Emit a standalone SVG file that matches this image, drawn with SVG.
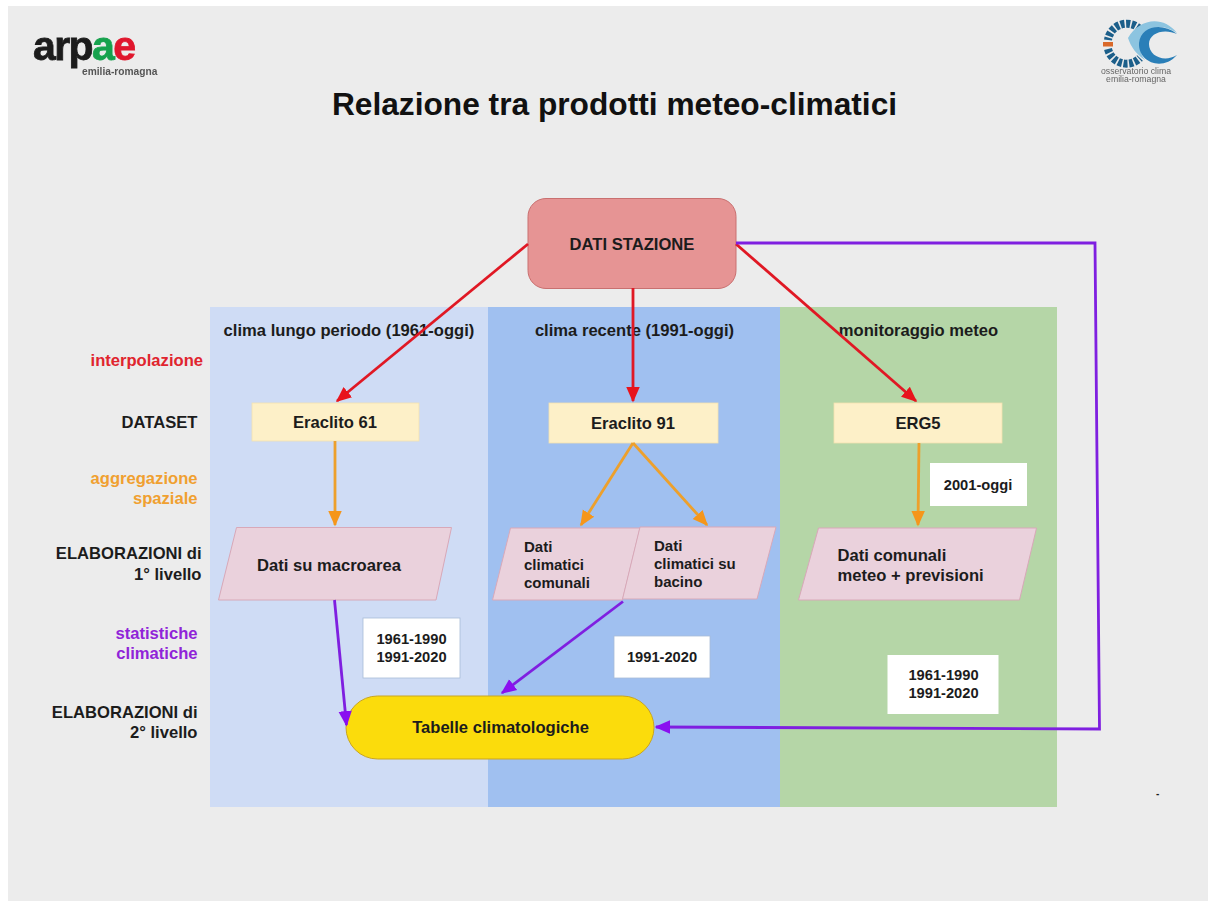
<svg xmlns="http://www.w3.org/2000/svg" width="1208" height="901" viewBox="0 0 1208 901">
<defs>
<marker id="ar" markerWidth="6" markerHeight="6" refX="5" refY="3" orient="auto" markerUnits="strokeWidth"><path d="M0 0.6L5.5 3L0 5.4Z" fill="#e8141c"/></marker>
<marker id="ao" markerWidth="6" markerHeight="6" refX="5" refY="3" orient="auto" markerUnits="strokeWidth"><path d="M0 0.6L5.5 3L0 5.4Z" fill="#f5961b"/></marker>
<marker id="ap" markerWidth="6" markerHeight="6" refX="5" refY="3" orient="auto" markerUnits="strokeWidth"><path d="M0 0.6L5.5 3L0 5.4Z" fill="#8a0ff0"/></marker>
<filter id="soft" x="-5%" y="-5%" width="110%" height="110%"><feGaussianBlur stdDeviation="0.6"/></filter>
</defs>
<style>
text{font-family:"Liberation Sans",Arial,sans-serif;font-weight:700;fill:#1c1c1c}
.big{font-size:16.6px}.mid{font-size:15px}.num{font-size:14.7px}
.m{text-anchor:middle}.rt{text-anchor:end}
.e{fill:#fdf0c8;stroke:#f3e2b0;stroke-width:.8}
.p{fill:#ead1dc;stroke:#d8a8b8;stroke-width:1}
.w{fill:#fff;stroke:#a8bcd8;stroke-width:.8}
.c{fill:none;stroke-width:2.8}
.r{stroke:#e01824;marker-end:url(#ar)}.o{stroke:#eda02c;marker-end:url(#ao)}.v{stroke:#7f1fe0;marker-end:url(#ap)}
.oc{fill:#f0a030}.pu{fill:#9024d8}
</style>
<rect width="1208" height="901" fill="#fff"/>
<rect x="8" y="6" width="1200" height="895" fill="#ececec"/>
<g id="band-lungo"><rect x="210" y="307" width="278" height="500" fill="#cfdcf5"/></g>
<g id="band-recente"><rect x="488" y="307" width="292" height="500" fill="#a0c0f0"/></g>
<g id="band-monitoraggio"><rect x="780" y="307" width="277" height="500" fill="#b5d6a7"/></g>

<g id="logo-arpae" filter="url(#soft)">
<text x="33" y="60" style="font-size:41px;letter-spacing:-1.6px;fill:#1c1c1c;stroke:#1c1c1c;stroke-width:.8">arp<tspan style="fill:#19a24e;stroke:#19a24e">a</tspan><tspan style="fill:#e0182d;stroke:#e0182d">e</tspan></text>
<text x="82" y="75" style="font-size:10.2px;fill:#555">emilia-romagna</text>
</g>
<g id="logo-osservatorio" filter="url(#soft)">
<path d="M1140 29A19 19 0 0 0 1108 40" fill="none" stroke="#1f5f8a" stroke-width="8" stroke-dasharray="4 1.6"/>
<path d="M1108 49A19 19 0 0 0 1140 58" fill="none" stroke="#1f5f8a" stroke-width="8" stroke-dasharray="4 1.6"/>
<rect x="1103" y="42" width="10" height="4.500" fill="#d9692b"/>
<path d="M1128 38C1138 20 1162 14 1177 33C1162 23 1148 26 1142 38C1139 47 1140 54 1145 60C1136 54 1131 47 1128 38Z" fill="#8cc4e0"/>
<path d="M1177 34C1162 22 1141 26 1139 43C1138 62 1162 72 1177 55C1164 63 1149 56 1149 44C1149 33 1164 28 1177 34Z" fill="#2b7fb8"/>
<text x="1136" y="73.500" class="m" style="font-size:8.7px;fill:#666;font-weight:400">osservatorio clima</text>
<text x="1136" y="82" class="m" style="font-size:8.7px;fill:#666;font-weight:400">emilia-romagna</text>
</g>
<text id="title" x="614.500" y="115" class="m" style="font-size:31.7px;fill:#111">Relazione tra prodotti meteo-climatici</text>

<g id="row-labels">
<text x="203" y="366" class="big rt" style="fill:#e0242e">interpolazione</text>
<text x="197.500" y="428" class="big rt">DATASET</text>
<text x="197.500" y="484" class="big rt oc">aggregazione</text>
<text x="197.500" y="504" class="big rt oc">spaziale</text>
<text x="201.500" y="559" class="big rt">ELABORAZIONI di</text>
<text x="201.500" y="580" class="big rt">1° livello</text>
<text x="197.500" y="639" class="big rt pu">statistiche</text>
<text x="197.500" y="659" class="big rt pu">climatiche</text>
<text x="197.500" y="718" class="big rt">ELABORAZIONI di</text>
<text x="197.500" y="738" class="big rt">2° livello</text>
</g>
<g id="band-labels">
<text x="349" y="336" class="big m">clima lungo periodo (1961-oggi)</text>
<text x="634.500" y="336" class="big m">clima recente (1991-oggi)</text>
<text x="918.500" y="336" class="big m">monitoraggio meteo</text>
</g>

<g id="n-stazione"><rect x="528" y="198.500" width="208" height="90" rx="18" fill="#e69494" stroke="#c97070"/><text x="632" y="250" class="big m">DATI STAZIONE</text></g>
<g id="n-er61"><rect x="252" y="403" width="167" height="38" class="e"/><text x="335" y="428" class="big m">Eraclito 61</text></g>
<g id="n-er91"><rect x="549" y="403" width="169" height="40" class="e"/><text x="633" y="429" class="big m">Eraclito 91</text></g>
<g id="n-erg5"><rect x="834" y="403" width="168" height="40" class="e"/><text x="918" y="429" class="big m">ERG5</text></g>
<g id="n-macro"><path d="M236.500 527.500H451.500L436 600H218.500Z" class="p"/><text x="257" y="570.500" class="big">Dati su macroarea</text></g>
<g id="n-comunali"><path d="M510.500 528H640L622.500 600H492.500Z" class="p"/><text x="524" y="552" class="mid">Dati</text><text x="524" y="570" class="mid">climatici</text><text x="524" y="587.500" class="mid">comunali</text></g>
<g id="n-bacino"><path d="M640 527H776L757 599H622.500Z" class="p"/><text x="654" y="551" class="mid">Dati</text><text x="654" y="569" class="mid">climatici su</text><text x="654" y="587" class="mid">bacino</text></g>
<g id="n-dati-comunali"><path d="M818.500 528H1036.500L1019.500 600H798.500Z" class="p"/><text x="837.500" y="560.500" class="big">Dati comunali</text><text x="837.500" y="581" class="big">meteo + previsioni</text></g>
<g id="n-2001"><rect x="930" y="463" width="97" height="43" fill="#fff"/><text x="978" y="490" class="num m">2001-oggi</text></g>
<g id="n-p1"><rect x="363" y="618" width="97" height="60" class="w"/><text x="411.500" y="644" class="num m">1961-1990</text><text x="411.500" y="662" class="num m">1991-2020</text></g>
<g id="n-p2"><rect x="614" y="636" width="96" height="42" class="w"/><text x="662" y="662" class="num m">1991-2020</text></g>
<g id="n-p3"><rect x="887.500" y="655" width="111" height="59" fill="#fff"/><text x="943.500" y="680" class="num m">1961-1990</text><text x="943.500" y="698" class="num m">1991-2020</text></g>
<g id="n-tabelle"><rect x="346" y="696" width="308" height="63" rx="31.500" fill="#fbdc0c" stroke="#c9a520"/><text x="500.500" y="733" class="big m">Tabelle climatologiche</text></g>

<g id="connectors">
<path class="c r" d="M528 244L337 401"/>
<path class="c r" d="M633 288V401"/>
<path class="c r" d="M736 244L916 401"/>
<path class="c o" d="M335 441V525"/>
<path class="c o" d="M633 443L581 525"/>
<path class="c o" d="M633 443L707 525"/>
<path class="c o" d="M919 443L918 525"/>
<path class="c v" d="M334.500 600L346.500 725"/>
<path class="c v" d="M623 601.500L502 693"/>
<path class="c v" d="M736 243H1095L1099.500 729L656 727"/>
</g>
<text id="dot" x="1156" y="797" style="font-size:10px">-</text>
</svg>
